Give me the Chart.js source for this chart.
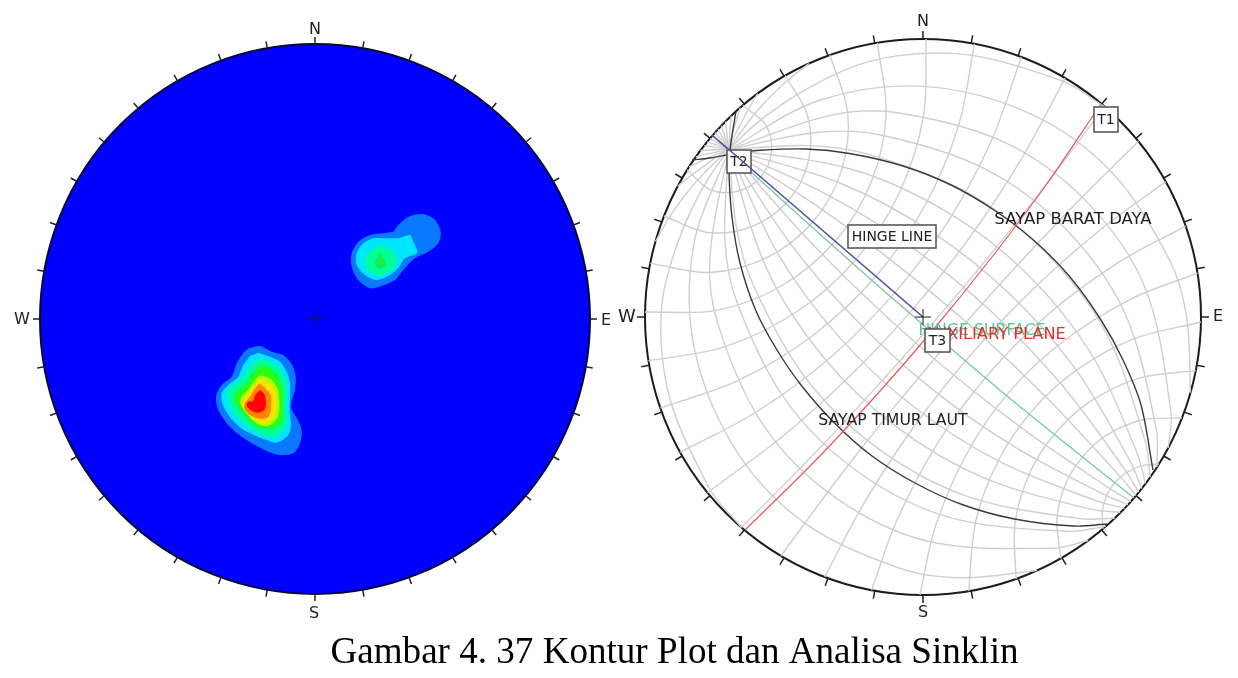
<!DOCTYPE html>
<html>
<head>
<meta charset="utf-8">
<title>Gambar 4.37</title>
<script src="https://cdn.jsdelivr.net/npm/chart.js@4"></script>
<style>
  html, body { margin: 0; padding: 0; background: #fff; }
  canvas { display: block; }
</style>
</head>
<body>
<canvas id="nets" width="1238" height="678"></canvas>
<script>
// Values are read off the picture. Contours and plotted planes are [x, y] in picture units,
// the grid of the right net is [along T2 axis, across T2 axis] measured from the net centre.

const tickAzimuths = [0, 10, 20, 30, 40, 50, 60, 70, 80, 90, 100, 110, 120, 130, 140, 150, 160, 170,
  180, 190, 200, 210, 220, 230, 240, 250, 260, 270, 280, 290, 300, 310, 320, 330, 340, 350];

// ---- left net, density contours (low to high) ----
const lowerBlob1 = [[248.3,348.3],[260,346],[271.7,351.7],[283.3,355],[292.3,365],[295.7,376.7],[295,390],[291,406.7],[296.7,418.3],[301.7,430],[300,443.3],[293.3,453.3],[280,455],[268.3,451.7],[255,445],[241.7,436.7],[228.3,425],[218.3,410],[216,396.7],[221.7,385],[231.7,376.7],[236.7,363.3],[243.3,352.7]];
const lowerBlob2 = [[258.3,352.7],[270,356.7],[280,361.7],[286.7,371.7],[290,383.3],[290,398.3],[289.7,411.7],[291,425],[288.3,435],[276.7,442.7],[266.7,440],[253.3,435],[240,427.3],[228.3,415],[222.3,403.3],[221.7,393.3],[228.3,385],[238.3,376.7],[243.3,365],[250,356]];
const lowerBlob3 = [[260,358.3],[270,361.7],[278.3,368.3],[285,378.3],[287,393.3],[286,408.3],[287,420],[282,431],[270,437],[255,431],[243.3,422.7],[233.3,411.7],[227.7,400],[229,390],[238.3,381.7],[246.7,371.7],[253.3,363.3]];
const lowerBlob4 = [[260,365],[270,368],[279.5,380],[283,393.3],[282.5,408.3],[283,418.3],[275,428],[258,427],[246.7,417],[238.3,406.7],[234.3,398.3],[238.3,390],[246.7,383.3],[253.3,373.3]];
const lowerBlob5 = [[260,375],[271,379],[278,390],[279.5,405],[278,416.7],[268,426],[256,423],[246.7,413],[240,403.3],[241.7,396.7],[248.3,390],[255,380]];
const lowerBlob6 = [[260,379.3],[268,383],[275,391.7],[276,406.7],[274,416.7],[263,423],[252,418],[244.3,409],[242.3,403.3],[246.7,395],[253.3,386.7]];
const lowerBlob7 = [[259.3,383.3],[265,388.3],[270.7,395],[271,408.3],[268.5,416.7],[260,418.7],[250,415],[244.3,408.3],[245.7,401.7],[250,396.7],[255,388.3]];
const lowerBlob8 = [[260,390],[264.3,394],[266,403.3],[264.3,410],[258.3,412.7],[251.7,410.7],[246.7,405.7],[248.3,401.7],[253.3,401],[255,395]];
const upperBlob1 = [[398.3,225],[408.3,216.7],[423.3,214],[435,220],[440.7,231.7],[438.3,243.3],[428.3,251.7],[415,258.3],[403.3,270],[395,280],[381.7,286],[370,288.3],[358.3,280],[351.7,266.7],[351.7,253.3],[358.3,241.7],[370,235],[383.3,233.3],[393.3,231.7]];
const upperBlob2 = [[398.3,238.3],[410,235],[413.3,241.7],[417.3,252.7],[405,258.3],[398.3,268.3],[390,275],[376.7,280],[365,275],[356.7,265],[356.7,253.3],[363.3,243.3],[373.3,238.3],[386.7,238.3]];
const upperBlob3 = [[380,245],[391.7,250],[396.7,260],[391.7,270],[380,275],[370,271.7],[365,263.3],[367.3,253.3]];
const upperBlob4 = [[380,251.7],[382.7,256.7],[386,265],[380,268.3],[375,265],[377.3,256.7]];

// ---- right net, grid circles through T2 ----
const gridMeridians = [
  [[278,-4],[256,0],[150,15.1],[50,22.7],[-50,24.2],[-150,19.4],[-250,8.4],[-278,4]],
  [[277.9,-8.3],[256,0],[150,30.7],[50,45.9],[-50,48.8],[-150,39.2],[-250,17],[-277.9,8.3]],
  [[277.7,-13.2],[256,0],[150,47.3],[50,70],[-50,74.1],[-150,60.1],[-250,26.5],[-277.7,13.2]],
  [[277.3,-19.2],[256,0],[150,65.5],[50,95.3],[-50,100.7],[-150,82.5],[-250,37.4],[-277.3,19.2]],
  [[276.7,-27.1],[266,-12.4],[256,0],[200,53.9],[150,86.4],[50,122.7],[-50,129.1],[-150,107.2],[-250,50.7],[-276.7,27.1]],
  [[275.2,-39.2],[265,-16.5],[256,0],[200,71.5],[150,110.7],[50,152.7],[-50,159.9],[-150,134.9],[-250,67.5],[-275.2,39.2]],
  [[271.2,-61.3],[270,-53.2],[262,-18.1],[256,0],[200,94.5],[150,139.8],[50,186.3],[-50,194.2],[-150,166.8],[-250,89.8],[-271.2,61.3]],
  [[252,-117.5],[258,-85.6],[260.3,-49.2],[258,-12.8],[256,0],[220,96.5],[150,175.2],[50,224.5],[-50,232.8],[-150,204],[-200,172],[-252,117.5]],
  [[0,-278],[50,-269.3],[150,-218.9],[220,-137.2],[256,0],[220,137.2],[150,218.9],[50,269.3],[0,278]],
  [[-252,-117.5],[-200,-172],[-150,-204],[-50,-232.8],[50,-224.5],[150,-175.2],[220,-96.5],[256,0],[258,12.8],[260.3,49.2],[258,85.6],[252,117.5]],
  [[-271.2,-61.3],[-250,-89.8],[-150,-166.8],[-50,-194.2],[50,-186.3],[150,-139.8],[200,-94.5],[256,0],[262,18.1],[270,53.2],[271.2,61.3]],
  [[-275.2,-39.2],[-250,-67.5],[-150,-134.9],[-50,-159.9],[50,-152.7],[150,-110.7],[200,-71.5],[256,0],[265,16.5],[275.2,39.2]],
  [[-276.7,-27.1],[-250,-50.7],[-150,-107.2],[-50,-129.1],[50,-122.7],[150,-86.4],[200,-53.9],[256,0],[266,12.4],[276.7,27.1]],
  [[-277.3,-19.2],[-250,-37.4],[-150,-82.5],[-50,-100.7],[50,-95.3],[150,-65.5],[256,0],[277.3,19.2]],
  [[-277.7,-13.2],[-250,-26.5],[-150,-60.1],[-50,-74.1],[50,-70],[150,-47.3],[256,0],[277.7,13.2]],
  [[-277.9,-8.3],[-250,-17],[-150,-39.2],[-50,-48.8],[50,-45.9],[150,-30.7],[256,0],[277.9,8.3]],
  [[-278,-4],[-250,-8.4],[-150,-19.4],[-50,-24.2],[50,-22.7],[150,-15.1],[256,0],[278,4]]
];

// ---- right net, grid circles around T2 ----
const gridParallels = [
  [[274.7,-42.7],[244.1,-42.5],[222.6,-25.9],[214.4,0],[222.6,25.9],[244.1,42.5],[274.7,42.7]],
  [[262.1,-92.7],[219,-77.1],[188.9,-43.7],[178,0],[188.9,43.7],[219,77.1],[262.1,92.7]],
  [[241.6,-137.6],[190.2,-105.2],[157.2,-57.1],[145.6,0],[157.2,57.1],[190.2,105.2],[241.6,137.6]],
  [[213.7,-177.8],[160.7,-129.8],[127.5,-68.7],[116,0],[127.5,68.7],[160.7,129.8],[213.7,177.8]],
  [[179.3,-212.5],[130.5,-151.8],[98.4,-76.3],[88.4,0],[98.4,76.3],[130.5,151.8],[179.3,212.5]],
  [[139.5,-240.5],[98.2,-168.2],[71.4,-86],[62.3,0],[71.4,86],[98.2,168.2],[139.5,240.5]],
  [[95.4,-261.1],[64,-180],[43.6,-90],[37.3,0],[43.6,90],[64,180],[95.4,261.1]],
  [[48.4,-273.8],[28,-180],[16.6,-90],[12.8,0],[16.6,90],[28,180],[48.4,273.8]],
  [[0,-278],[-6.7,-180],[-10.3,-90],[-11.5,0],[-10.3,90],[-6.7,180],[0,278]],
  [[-48.4,-273.8],[-41.3,-180],[-37.2,-90],[-35.9,0],[-37.2,90],[-41.3,180],[-48.4,273.8]],
  [[-95.4,-261.1],[-77,-180],[-64.9,-90],[-60.9,0],[-64.9,90],[-77,180],[-95.4,261.1]],
  [[-139.5,-240.5],[-112.7,-170],[-93.3,-85],[-86.9,0],[-93.3,85],[-112.7,170],[-139.5,240.5]],
  [[-179.3,-212.5],[-146,-150],[-122.5,-75],[-114.3,0],[-122.5,75],[-146,150],[-179.3,212.5]],
  [[-213.7,-177.8],[-173.3,-120],[-151,-60],[-143.9,0],[-151,60],[-173.3,120],[-213.7,177.8]],
  [[-241.6,-137.6],[-203.7,-95],[-181.8,-45],[-176.2,0],[-181.8,45],[-203.7,95],[-241.6,137.6]],
  [[-262.1,-92.7],[-233,-65],[-216.1,-30],[-212.3,0],[-216.1,30],[-233,65],[-262.1,92.7]],
  [[-274.7,-42.7],[-262.8,-30],[-255.7,-15],[-253.5,0],[-255.7,15],[-262.8,30],[-274.7,42.7]]
];

// ---- right net, plotted planes ----
const sayapBaratDaya = [[692,160],[710,158],[738,153],[757,150.5],[806,149],[851,153.7],[903,166],[951,185],[994,210],[1034,240.5],[1070,277],[1101,320],[1123,360],[1141,405],[1153,470]];
const sayapTimurLaut = [[736,111],[730,150],[729,173],[732,217],[740,263],[756,311],[777,350],[801,385],[834.5,423],[872,456],[915,483],[962,504.5],[1014.5,519],[1074,526],[1107,524]];
const auxiliaryPlane = [[1101,104],[1046,185],[992,257],[935.5,327],[876.5,395],[815,461],[745,530]];
const hingeSurface = [[712,135],[760,180],[850,261],[913,316],[1007,396],[1075,451],[1134,498]];
const hingeLine = [[712,135],[923,317]];

const leftCentre = [315, 319];
const rightCentre = [923, 317];
const leftRadius = 275;
const rightRadius = 278;

// ---- helpers ----
function xy(list) {
  return list.map(p => ({ x: p[0], y: p[1] }));
}

// net frame -> picture, axis runs from the centre towards T2
function fromNet(p) {
  return {
    x: rightCentre[0] - 0.757 * p[0] + 0.653 * p[1],
    y: rightCentre[1] - 0.653 * p[0] - 0.757 * p[1],
  };
}

// short outward strokes on the rim, one per azimuth, broken up by nulls
function rimTicks(centre, radius, len) {
  const out = [];
  for (const az of tickAzimuths) {
    const s = Math.sin(az * Math.PI / 180), c = Math.cos(az * Math.PI / 180);
    out.push({ x: centre[0] + s * radius, y: centre[1] - c * radius });
    out.push({ x: centre[0] + s * (radius + len), y: centre[1] - c * (radius + len) });
    out.push({ x: centre[0], y: null });
  }
  return out;
}

function area(label, list, color) {
  return { label, data: xy(list), showLine: true, tension: 0.3, fill: 'shape', backgroundColor: color, borderWidth: 0, borderColor: color, pointRadius: 0 };
}

function line(label, data, color, width, tension) {
  return { label, data, showLine: true, tension, fill: false, borderColor: color, borderWidth: width, pointRadius: 0 };
}

function disc(label, centre, radius, fill, edge) {
  return { label, data: xy([centre]), pointRadius: radius, backgroundColor: fill, borderColor: edge, borderWidth: 2, pointHoverRadius: radius };
}

function cross(label, centre) {
  return { label, data: xy([centre]), pointStyle: 'cross', pointRadius: 8, borderColor: '#1a1a1a', borderWidth: 1, backgroundColor: '#1a1a1a' };
}

const GRID = '#cfcfcf';
const INK = '#3a3a3a';

const datasets = [
  disc('left net', leftCentre, leftRadius, '#0000ff', '#08083a'),
  line('left ticks', rimTicks(leftCentre, leftRadius, 7), '#222', 1.5, 0),
  area('l1', lowerBlob1, '#0a78ff'), area('l2', lowerBlob2, '#00e6ff'), area('l3', lowerBlob3, '#00ff96'),
  area('l4', lowerBlob4, '#28ff14'), area('l5', lowerBlob5, '#b4ff00'), area('l6', lowerBlob6, '#ffe100'),
  area('l7', lowerBlob7, '#ff8200'), area('l8', lowerBlob8, '#ff0000'),
  area('u1', upperBlob1, '#0a78ff'), area('u2', upperBlob2, '#00e6ff'), area('u3', upperBlob3, '#00ff96'),
  area('u4', upperBlob4, '#10f050'),
  cross('left centre', leftCentre),

  disc('right net', rightCentre, rightRadius, '#ffffff', '#1c1c1c'),
  line('right ticks', rimTicks(rightCentre, rightRadius, 8), '#222', 1.5, 0),
];
gridMeridians.forEach((m, i) => datasets.push(line('meridian ' + i, m.map(fromNet), GRID, 1.4, 0.33)));
gridParallels.forEach((p, i) => datasets.push(line('parallel ' + i, p.map(fromNet), GRID, 1.4, 0.33)));
datasets.push(
  line('SAYAP BARAT DAYA', xy(sayapBaratDaya), INK, 1.4, 0.33),
  line('SAYAP TIMUR LAUT', xy(sayapTimurLaut), INK, 1.4, 0.33),
  line('AUXILIARY PLANE', xy(auxiliaryPlane), '#e85a5a', 1.2, 0.33),
  line('HINGE SURFACE', xy(hingeSurface), '#76c8a0', 1.2, 0.33),
  line('HINGE LINE', xy(hingeLine), '#4f4f9e', 1.6, 0),
  cross('right centre', rightCentre)
);
// chart.js paints the last dataset first, the list above is written bottom layer first
datasets.reverse();

// text placed in picture units, boxes get a white plate
const NET_FONT = '"DejaVu Sans"';
const netLetters = [
  ['N', 315, 30, 16], ['S', 314, 614, 16], ['E', 606, 321, 16], ['W', 22, 320, 16],
  ['N', 923, 22, 16], ['S', 923, 613, 16], ['E', 1218, 317, 16], ['W', 627, 317, 18],
];
const planeLabels = [
  ['SAYAP BARAT DAYA', 1073, 220, '#222', 16.5],
  ['SAYAP TIMUR LAUT', 893, 421, '#222', 15.7],
  ['HINGE SURFACE', 982, 331, '#63c096', 15.75],
  ['AUXILIARY PLANE', 995, 335, '#e53030', 16.2],
];
const boxedLabels = [
  ['HINGE LINE', 848, 225, 88, 23],
  ['T1', 1094, 107, 24, 25],
  ['T3', 925, 329, 25, 23],
];
const t2Box = ['T2', 727, 150, 24, 23];
const captionText = 'Gambar 4. 37 Kontur Plot dan Analisa Sinklin';

function drawBox(chart, b) {
  const { ctx, scales: { x, y } } = chart;
  const px = x.getPixelForValue(b[1]), py = y.getPixelForValue(b[2]);
  const w = x.getPixelForValue(b[1] + b[3]) - px, h = y.getPixelForValue(b[2] + b[4]) - py;
  ctx.save();
  ctx.fillStyle = '#fff';
  ctx.strokeStyle = '#5a5a5a';
  ctx.lineWidth = 1.6;
  ctx.fillRect(px, py, w, h);
  ctx.strokeRect(px, py, w, h);
  ctx.fillStyle = '#222';
  ctx.font = '14px ' + NET_FONT;
  ctx.textAlign = 'center';
  ctx.textBaseline = 'middle';
  ctx.fillText(b[0], px + w / 2, py + h / 2 + 1);
  ctx.restore();
}

const netText = {
  id: 'netText',
  afterDatasetDraw(chart, args) {
    // T2 sits under the hinge line, the other boxes over everything
    if (chart.data.datasets[args.index].label === 'HINGE SURFACE') drawBox(chart, t2Box);
  },
  afterDatasetsDraw(chart) {
    const { ctx, scales: { x, y } } = chart;
    ctx.save();
    ctx.textAlign = 'center';
    ctx.textBaseline = 'middle';
    ctx.fillStyle = '#222';
    for (const [t, px, py, size] of netLetters) {
      ctx.font = size + 'px ' + NET_FONT;
      ctx.fillText(t, x.getPixelForValue(px), y.getPixelForValue(py));
    }
    for (const [t, px, py, color, size] of planeLabels) {
      ctx.font = size + 'px ' + NET_FONT;
      ctx.fillStyle = color;
      ctx.fillText(t, x.getPixelForValue(px), y.getPixelForValue(py));
    }
    ctx.restore();
    boxedLabels.forEach(b => drawBox(chart, b));
    ctx.save();
    ctx.fillStyle = '#000';
    ctx.font = '37.1px "Liberation Serif"';
    ctx.textAlign = 'center';
    ctx.textBaseline = 'alphabetic';
    ctx.fillText(captionText, x.getPixelForValue(674.5), y.getPixelForValue(663));
    ctx.restore();
  },
};

new Chart(document.getElementById('nets'), {
  type: 'scatter',
  data: { datasets },
  plugins: [netText],
  options: {
    responsive: false,
    animation: false,
    events: [],
    layout: { padding: 0, autoPadding: false },
    plugins: { legend: { display: false }, tooltip: { enabled: false }, title: { display: false } },
    scales: {
      x: { type: 'linear', min: 0, max: 1238, display: false },
      y: { type: 'linear', min: 0, max: 678, reverse: true, display: false },
    },
  },
});
</script>
</body>
</html>
